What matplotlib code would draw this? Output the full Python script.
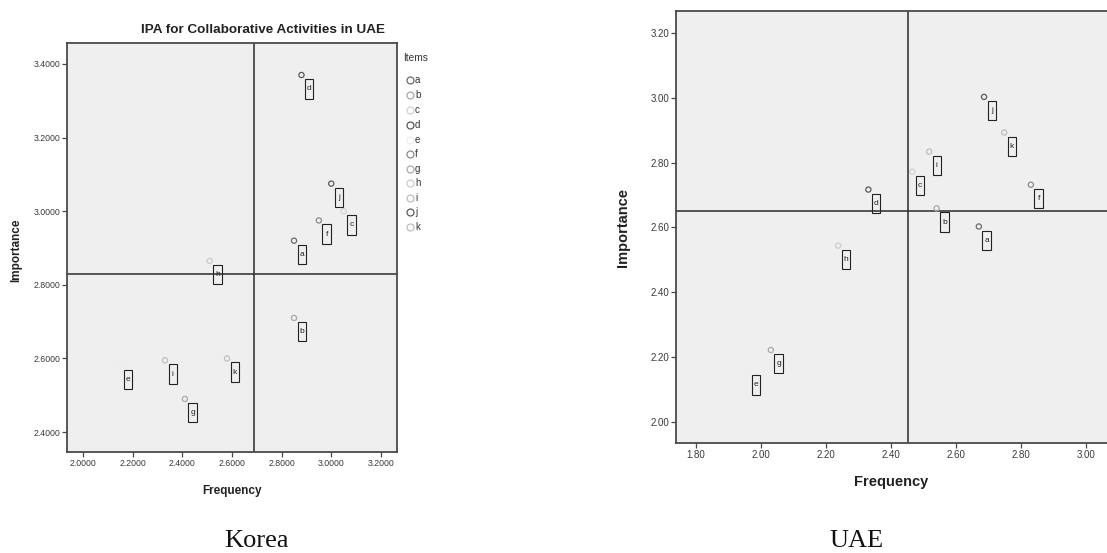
import matplotlib
matplotlib.use('Agg')
import matplotlib.pyplot as plt
from matplotlib.patches import Rectangle
from matplotlib.transforms import ScaledTranslation
from matplotlib.ticker import FormatStrFormatter
from matplotlib.lines import Line2D

# ---------------- data ----------------
items = ['a', 'b', 'c', 'd', 'e', 'f', 'g', 'h', 'i', 'j', 'k']

kor_freq = [2.85, 2.85, 3.05, 2.88, 2.15, 2.95, 2.41, 2.51, 2.33, 3.00, 2.58]
kor_imp = [2.92, 2.71, 3.00, 3.37, 2.58, 2.975, 2.49, 2.865, 2.595, 3.075, 2.60]
kor_freq_mean = 2.69
kor_imp_mean = 2.83

uae_freq = [2.67, 2.54, 2.465, 2.33, 1.96, 2.83, 2.03, 2.237, 2.517, 2.686, 2.748]
uae_imp = [2.603, 2.659, 2.772, 2.717, 2.157, 2.732, 2.222, 2.544, 2.834, 3.003, 2.893]
uae_freq_mean = 2.452
uae_imp_mean = 2.652

kor_xticks = [2.0, 2.2, 2.4, 2.6, 2.8, 3.0, 3.2]
kor_yticks = [2.4, 2.6, 2.8, 3.0, 3.2, 3.4]
uae_xticks = [1.8, 2.0, 2.2, 2.4, 2.6, 2.8, 3.0]
uae_yticks = [2.0, 2.2, 2.4, 2.6, 2.8, 3.0, 3.2]

title = 'IPA for Collaborative Activities in UAE'

# ---------------- style ----------------
item_colors = ['#6a6a6a', '#a8a8a8', '#d2d2d2', '#585858', '#eeeeee', '#8a8a8a',
               '#ababab', '#cccccc', '#bdbdbd', '#5a5a5a', '#bdbdbd']
SANS = ['Liberation Sans', 'DejaVu Sans']
SERIF = ['Liberation Serif', 'DejaVu Serif']
W, H = 1107, 553

fig = plt.figure(figsize=(W / 100, H / 100), dpi=100)
fig.patch.set_facecolor('white')


def px_rect(l, r, t, b):
    return [l / W, 1 - b / H, (r - l) / W, (b - t) / H]


def style_axes(ax, tick_fs, fmt):
    ax.set_facecolor('#efefef')
    for sp in ax.spines.values():
        sp.set_color('#4a4a4a')
        sp.set_linewidth(1.3)
    ax.tick_params(direction='out', length=3.5, width=0.9, color='#4a4a4a',
                   labelsize=tick_fs, labelcolor='#3a3a3a', pad=1.5)
    for lab in ax.get_xticklabels() + ax.get_yticklabels():
        lab.set_family(SANS)
    ax.xaxis.set_major_formatter(FormatStrFormatter(fmt))
    ax.yaxis.set_major_formatter(FormatStrFormatter(fmt))


def label_boxes(ax, xs, ys, labels, fs):
    for x, y, s in zip(xs, ys, labels):
        tr = fig.dpi_scale_trans + ScaledTranslation(x, y, ax.transData)
        rect = Rectangle((0.035, -0.235), 0.085, 0.195, transform=tr, fill=False,
                         ec='#222222', lw=0.8, clip_on=False, zorder=4)
        ax.add_artist(rect)
        ax.text(0.0775, -0.137, s, transform=tr, ha='center', va='center',
                fontsize=fs, color='#222222', family=SANS, zorder=5)


def draw_panel(ax, fx, fy, fmean, imean, xticks, yticks, xlim, ylim, tick_fs, fmt, lab_fs):
    ax.scatter(fx, fy, s=14, facecolors='none', edgecolors=item_colors,
               linewidths=0.9, zorder=3)
    ax.axvline(fmean, color='#2a2a2a', lw=1.1, zorder=2)
    ax.axhline(imean, color='#2a2a2a', lw=1.1, zorder=2)
    label_boxes(ax, fx, fy, items, lab_fs)
    ax.set_xticks(xticks)
    ax.set_yticks(yticks)
    ax.set_xlim(*xlim)
    ax.set_ylim(*ylim)
    style_axes(ax, tick_fs, fmt)


# ---------------- Korea panel ----------------
ax1 = fig.add_axes(px_rect(67, 397, 43, 452))
draw_panel(ax1, kor_freq, kor_imp, kor_freq_mean, kor_imp_mean,
           kor_xticks, kor_yticks, (1.935, 3.265), (2.346, 3.457), 6.3, '%.4f', 6)

fig.text(263 / W, 1 - 30 / H, title, ha='center', va='center', fontsize=9.7,
         fontweight='bold', family=SANS, color='#222222')
fig.text(232 / W, 1 - 491 / H, 'Frequency', ha='center', va='center', fontsize=8.5,
         fontweight='bold', family=SANS, color='#222222')
fig.text(16 / W, 1 - 250 / H, 'Importance', ha='center', va='center', fontsize=8.5,
         fontweight='bold', family=SANS, color='#222222', rotation=90)

# legend
fig.text(416 / W, 1 - 58 / H, 'Items', ha='center', va='center', fontsize=7.3,
         family=SANS, color='#333333')
leg_y = [80, 95, 110, 125, 140, 154, 169, 183, 198, 212, 227]
for s, c, yy in zip(items, item_colors, leg_y):
    fig.add_artist(Line2D([410 / W], [1 - yy / H], marker='o', markersize=5,
                          markerfacecolor='none', markeredgecolor=c,
                          markeredgewidth=0.9, linestyle='none',
                          transform=fig.transFigure))
    fig.text(415 / W, 1 - yy / H, s, ha='left', va='center', fontsize=7,
             family=SANS, color='#333333')

# ---------------- UAE panel ----------------
ax2 = fig.add_axes(px_rect(676, 1115, 11, 443))
draw_panel(ax2, uae_freq, uae_imp, uae_freq_mean, uae_imp_mean,
           uae_xticks, uae_yticks, (1.738, 3.089), (1.935, 3.268), 7, '%.2f', 6)

fig.text(891 / W, 1 - 482 / H, 'Frequency', ha='center', va='center', fontsize=10.5,
         fontweight='bold', family=SANS, color='#222222')
fig.text(623 / W, 1 - 227 / H, 'Importance', ha='center', va='center', fontsize=10.5,
         fontweight='bold', family=SANS, color='#222222', rotation=90)

# ---------------- captions ----------------
fig.text(256 / W, 1 - 541 / H, 'Korea', ha='center', va='center', fontsize=19,
         family=SERIF, color='#111111')
fig.text(857 / W, 1 - 541 / H, 'UAE', ha='center', va='center', fontsize=19,
         family=SERIF, color='#111111')

fig.savefig('out.png', dpi=100)
